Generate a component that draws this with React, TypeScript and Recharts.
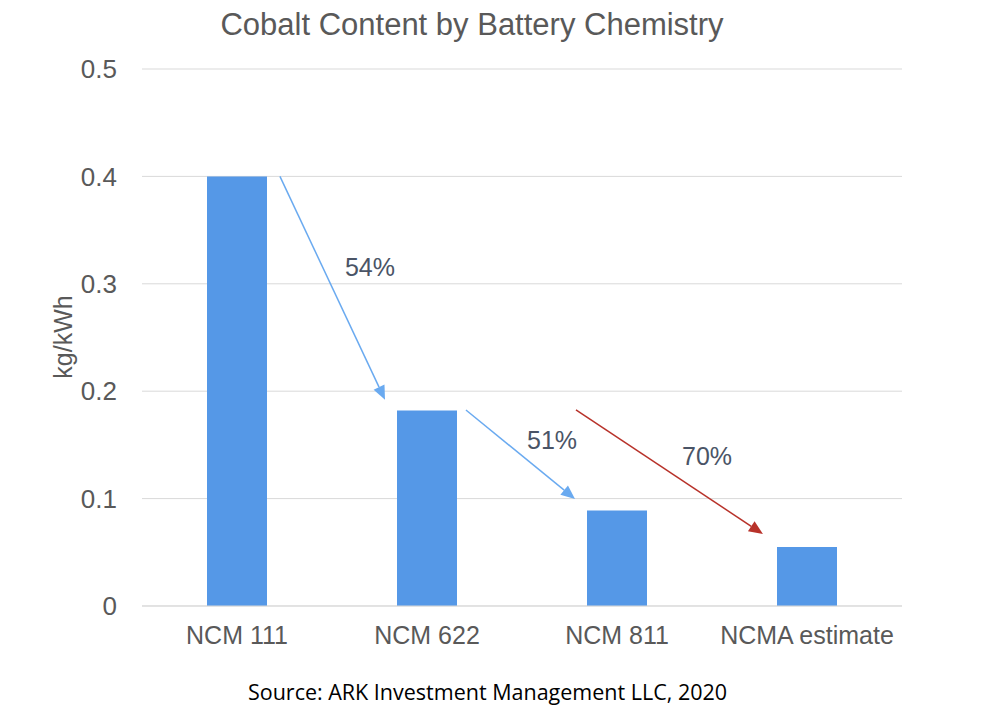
import React from "react"
import { Bar, BarChart, CartesianGrid, XAxis, YAxis, ReferenceLine, ReferenceDot } from "recharts"

const categories = ["NCM 111", "NCM 622", "NCM 811", "NCMA estimate"]
const cobalt = [0.4, 0.182, 0.089, 0.055]
const yTicks = [0, 0.1, 0.2, 0.3, 0.4, 0.5]

// reduction arrows, in data units (x on a 0..4 helper axis, y in kg/kWh)
const arrows = [
  { from: [0.726, 0.4], to: [1.279, 0.192], color: "#6aaaf0" },
  { from: [1.705, 0.1825], to: [2.279, 0.0996], color: "#6aaaf0" },
  { from: [2.284, 0.1825], to: [3.268, 0.067], color: "#b8322a" },
]
const arrowLabels = [
  { x: 1.2, y: 0.3156, text: "54%" },
  { x: 2.158, y: 0.1546, text: "51%" },
  { x: 2.974, y: 0.1397, text: "70%" },
]

// pos = centre of each category band on the 0..4 helper axis
const data = categories.map((name, i) => ({ name, value: cobalt[i], pos: i + 0.5 }))

const font = "'Liberation Sans', Arial, Helvetica, sans-serif"
const gray = "#595959"

function Arrow(props: any) {
  const { x1, y1, x2, y2, stroke } = props
  const ang = Math.atan2(y2 - y1, x2 - x1)
  const len = 14
  const half = 6
  const bx = x2 - len * Math.cos(ang)
  const by = y2 - len * Math.sin(ang)
  const px = -Math.sin(ang) * half
  const py = Math.cos(ang) * half
  return (
    <g>
      <line x1={x1} y1={y1} x2={bx} y2={by} stroke={stroke} strokeWidth={1.5} />
      <polygon points={`${x2},${y2} ${bx + px},${by + py} ${bx - px},${by - py}`} fill={stroke} />
    </g>
  )
}

export default function App() {
  return (
    <div style={{ position: "absolute", top: 0, left: 0, width: 1000, height: 715, background: "#fff", fontFamily: font }}>
      <div style={{ position: "absolute", top: 7, left: 0, width: 944, textAlign: "center", fontSize: 31, lineHeight: "36px", color: gray }}>
        Cobalt Content by Battery Chemistry
      </div>
      <div style={{ position: "absolute", top: 0, left: 0 }}>
        <BarChart width={1000} height={680} data={data} margin={{ top: 69, right: 98, left: 0, bottom: 14 }}>
          <CartesianGrid vertical={false} stroke="#d9d9d9" />
          <XAxis
            dataKey="name"
            height={60}
            stroke="#d9d9d9"
            tickLine={false}
            tickMargin={14}
            tick={{ fill: gray, fontSize: 25, fontFamily: font }}
          />
          <XAxis xAxisId="pos" dataKey="pos" type="number" domain={[0, 4]} allowDataOverflow hide />
          <YAxis
            width={142}
            domain={[0, 0.5]}
            ticks={yTicks}
            axisLine={false}
            tickLine={false}
            tickMargin={19}
            tick={{ fill: gray, fontSize: 26, fontFamily: font }}
            label={{
              content: () => (
                <text
                  x={63}
                  y={337}
                  transform="rotate(-90, 63, 337)"
                  textAnchor="middle"
                  dominantBaseline="central"
                  fill={gray}
                  fontSize={25}
                  fontFamily={font}
                >
                  kg/kWh
                </text>
              ),
            }}
          />
          <Bar dataKey="value" fill="#5598e7" barSize={60} isAnimationActive={false} />
          {arrows.map((a, i) => (
            <ReferenceLine
              key={"a" + i}
              xAxisId="pos"
              segment={[
                { x: a.from[0], y: a.from[1] },
                { x: a.to[0], y: a.to[1] },
              ]}
              stroke={a.color}
              ifOverflow="visible"
              shape={(p: any) => <Arrow {...p} stroke={a.color} />}
            />
          ))}
          {arrowLabels.map((l, i) => (
            <ReferenceDot
              key={"l" + i}
              xAxisId="pos"
              x={l.x}
              y={l.y}
              r={0}
              fill="none"
              stroke="none"
              ifOverflow="visible"
              label={{ value: l.text, position: "center", fill: "#4a5466", fontSize: 25, fontFamily: font }}
            />
          ))}
        </BarChart>
      </div>
      <div style={{ position: "absolute", top: 678, left: 0, width: 975, textAlign: "center", fontSize: 21.5, lineHeight: "28px", color: "#000", fontFamily: "'Open Sans', sans-serif" }}>
        Source: ARK Investment Management LLC, 2020
      </div>
    </div>
  )
}
